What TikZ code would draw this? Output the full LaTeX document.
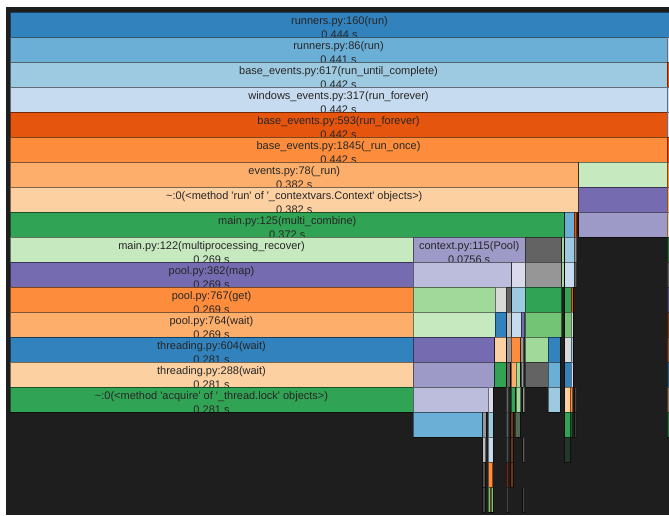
\documentclass[tikz,border=0pt]{standalone}
\usepackage{fontspec}
\newfontfamily\flamefont{Liberation Sans}

\definecolor{bgdark}{HTML}{1E1E1E}
\definecolor{blue1}{HTML}{3182BD}
\definecolor{blue2}{HTML}{6BAED6}
\definecolor{blue3}{HTML}{9ECAE1}
\definecolor{blue4}{HTML}{C6DBEF}
\definecolor{orange1}{HTML}{E6550D}
\definecolor{orange2}{HTML}{FD8D3C}
\definecolor{orange3}{HTML}{FDAE6B}
\definecolor{orange4}{HTML}{FDD0A2}
\definecolor{green1}{HTML}{31A354}
\definecolor{green2}{HTML}{74C476}
\definecolor{green3}{HTML}{A1D99B}
\definecolor{green4}{HTML}{C7E9C0}
\definecolor{purple1}{HTML}{756BB1}
\definecolor{purple2}{HTML}{9E9AC8}
\definecolor{purple3}{HTML}{BCBDDC}
\definecolor{purple4}{HTML}{DADAEB}
\definecolor{grey1}{HTML}{636363}
\definecolor{grey2}{HTML}{969696}
\definecolor{grey3}{HTML}{BDBDBD}
\definecolor{grey4}{HTML}{D9D9D9}

\tikzset{
	box/.style={draw=black, draw opacity=0.5, line width=0.8pt},
	fname/.style={anchor=base, inner sep=0pt, text=black!85,
		font=\flamefont\fontsize{11}{13}\selectfont},
}

% one row of boxes: y of the top edge, list of x1/x2/colour
\newcommand\flamerow[2]{%
	\foreach \a/\b/\c in {#2}
		\path[box, fill=\c] (\a,#1) rectangle (\b,#1+25);
}
% label of one box: name, x1, x2, y, function, time
\newcommand\flamelabel[6]{%
	\begin{scope}
		\clip (#2,#4) rectangle (#3,#4+24.6);
		\node[fname] (#1) at ({(#2+#3)/2},#4+12.3) {#5};
		\node[fname] (#1-t) at ({(#2+#3)/2},#4+26.6) {#6};
	\end{scope}
}

\begin{document}
\begin{tikzpicture}[x=1pt, y=-1pt]
		\useasboundingbox (0,0) rectangle (669,515);
		\fill[white] (0,0) rectangle (669,515);
		\fill[bgdark] (6,7) rectangle (672,515);
		
		\flamerow{12}{10/672/blue1}
		\flamerow{37}{10/667/blue2, 667/672/purple4}
		\flamerow{62}{10/667/blue3, 667/672/orange1}
		\flamerow{87}{10/667/blue4, 667/672/blue4}
		\flamerow{112}{10/667/orange1, 667/672/purple4}
		\flamerow{137}{10/667/orange2, 667/672/orange1}
		\flamerow{162}{10/578.5/orange3, 578.5/667/green4, 667/672/orange2}
		\flamerow{187}{10/578.5/orange4, 578.5/667/purple1, 667/672/orange3}
		\flamerow{212}{10/564.5/green1, 564.5/574.3/blue2, 574.3/576.5/orange1,
			578.5/667/purple2, 667/672/orange4}
		\flamerow{237}{10/413/green4, 413/525.3/purple2, 525.3/561.7/grey1,
			561.7/564.3/green3, 564.5/574.3/blue3, 574.3/576.5/grey2,
			667/672/green1!60!bgdark}
		\flamerow{262}{10/413/purple1, 413/511.7/purple3, 511.7/525.3/purple4,
			525.3/561.7/grey2, 561.7/564.3/green3, 564.5/574.3/blue4,
			574.3/576.5/grey1, 667/672/grey1}
		\flamerow{287}{10/413/orange2, 413/495/green3, 495/506.5/grey4,
			506.5/511.7/grey1, 511.7/525.3/blue3, 525.3/561.7/green1,
			564.5/571/green1, 571/573.3/orange1, 667/672/purple1!60!bgdark}
		\flamerow{312}{10/413/orange3, 413/495/green4, 495/506.5/blue1,
			506.5/511.7/grey3, 511.7/521.7/blue4, 521.7/524.5/purple1,
			525.3/561.7/green2, 564.5/571/green2, 571/573.3/grey4,
			667/672/orange1!50!bgdark}
		\flamerow{337}{10/413/blue1, 413/494.5/purple1, 494.5/506.3/orange4,
			506.5/511/grey2, 511.3/520.7/orange2, 520.7/523.5/grey2,
			525.3/548.3/green3, 548.3/560/blue1, 564.5/571/grey4,
			571/573.3/blue3, 667/672/orange2!50!bgdark}
		\flamerow{362}{10/413/orange4, 413/494.5/purple2, 494.5/506.3/green1,
			506.5/510/grey2!60!bgdark, 511.3/516/orange3, 516.3/520.3/green3,
			521/523.5/grey2, 525.3/548.3/grey1, 548.3/560/blue2,
			564.5/571/blue1, 571/573.3/purple4, 667/672/blue1!60!bgdark}
		\flamerow{387}{10/413/green1, 413/488/purple3, 488.3/493.3/purple4,
			506/508.5/grey2!60!bgdark, 511.3/515/green1, 516.3/520.5/green3,
			522.5/524.5/grey2, 548.3/560/blue3, 564.5/570/orange4,
			570/572.5/orange2, 574.5/576.5/grey1!60!bgdark,
			667/672/orange4!50!bgdark}
		\flamerow{412}{413/482.7/blue2, 482.7/486/grey2, 488.3/493.3/blue3,
			506/508.5/blue3!40!bgdark, 510.5/513/orange1!45!bgdark,
			515/520/green3!40!bgdark, 564.5/570/green1,
			570/572.5/green1!40!bgdark, 574.5/576.5/grey1!40!bgdark,
			667/672/green1!60!bgdark}
		\flamerow{437}{482.7/485.5/grey3, 488.3/493.3/blue4,
			506/508.5/blue3!30!bgdark, 510.5/513/orange1!40!bgdark,
			522.5/524.5/grey2!50!bgdark, 564.5/570/green1!20!bgdark}
		\flamerow{462}{482.7/485/grey2!40!bgdark, 488.3/492.7/orange2,
			506/508.5/orange1!35!bgdark, 510.5/513/orange1!40!bgdark}
		\flamerow{487}{482.7/485/grey2!30!bgdark, 488.3/493.3/green2,
			490/491.3/orange1, 506/508.5/grey2!30!bgdark,
			522.5/524.5/grey2!30!bgdark}
		
		\flamelabel{run160}{10}{669}{12}{runners.py:160(run)}{0.444 s}
		\flamelabel{run86}{10}{667}{37}{runners.py:86(run)}{0.441 s}
		\flamelabel{ruc}{10}{667}{62}{base\_events.py:617(run\_until\_complete)}{0.442 s}
		\flamelabel{winrf}{10}{667}{87}{windows\_events.py:317(run\_forever)}{0.442 s}
		\flamelabel{baserf}{10}{667}{112}{base\_events.py:593(run\_forever)}{0.442 s}
		\flamelabel{runonce}{10}{667}{137}{base\_events.py:1845(\_run\_once)}{0.442 s}
		\flamelabel{evrun}{10}{578.5}{162}{events.py:78(\_run)}{0.382 s}
		\flamelabel{ctxrun}{10}{578.5}{187}{\textasciitilde:0(<method 'run' of '\_contextvars.Context' objects>)}{0.382 s}
		\flamelabel{mcomb}{10}{564.5}{212}{main.py:125(multi\_combine)}{0.372 s}
		\flamelabel{mprec}{10}{413}{237}{main.py:122(multiprocessing\_recover)}{0.269 s}
		\flamelabel{pool}{413}{525.3}{237}{context.py:115(Pool)}{0.0756 s}
		\flamelabel{pmap}{10}{413}{262}{pool.py:362(map)}{0.269 s}
		\flamelabel{pget}{10}{413}{287}{pool.py:767(get)}{0.269 s}
		\flamelabel{pwait}{10}{413}{312}{pool.py:764(wait)}{0.269 s}
		\flamelabel{thw604}{10}{413}{337}{threading.py:604(wait)}{0.281 s}
		\flamelabel{thw288}{10}{413}{362}{threading.py:288(wait)}{0.281 s}
		\flamelabel{acq}{10}{413}{387}{\textasciitilde:0(<method 'acquire' of '\_thread.lock' objects>)}{0.281 s}
		
	\end{tikzpicture}
\end{document}
